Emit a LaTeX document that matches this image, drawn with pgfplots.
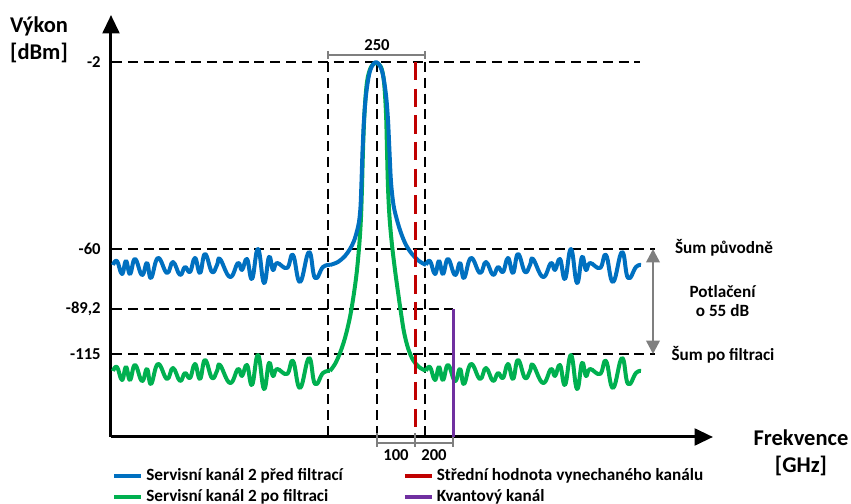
\documentclass[border=0pt]{standalone}
\usepackage{pgfplots}
\pgfplotsset{compat=1.18}
\usepackage{fontspec}
\setmainfont{Carlito}
\usetikzlibrary{arrows.meta}
\definecolor{cblue}{HTML}{0070C0}
\definecolor{cgreen}{HTML}{00B050}
\definecolor{cred}{HTML}{C00000}
\definecolor{cpurple}{HTML}{7030A0}
\definecolor{cgray}{HTML}{7F7F7F}
\begin{document}
\begin{tikzpicture}[font=\bfseries]
\begin{axis}[
 x=0.6pt, y=0.6pt,
 xmin=111, xmax=713, ymin=0, ymax=422,
 axis lines=left,
 axis line style={line width=1.8pt, -{Triangle[length=11pt,width=10pt]}},
 xtick=\empty,
 ytick={83,128,188,375},
 yticklabels={-115,{-89,2},-60,-2},
 major tick length=0pt,
 yticklabel style={font=\bfseries\fontsize{10}{12}\selectfont, inner sep=0pt, xshift=-6pt},
 clip=false,
 legend columns=2,
 legend cell align=left,
 legend image code/.code={\draw[line width=2.4pt] (0pt,0pt) -- (16pt,0pt);},
 legend style={draw=none, fill=none, at={(axis description cs:0.0017,-0.066)}, anchor=north west,
   inner sep=0pt, font=\bfseries\fontsize{10.3}{12}\selectfont,
   /tikz/every even column/.append style={column sep=34pt}, row sep=0pt},
]
% dashed guide lines
\addplot[forget plot, black, line width=0.8pt, dash pattern=on 6pt off 3.5pt] coordinates {(112,375) (640,375)};
\addplot[forget plot, black, line width=0.8pt, dash pattern=on 6pt off 3.5pt] coordinates {(112,188) (655,188)};
\addplot[forget plot, black, line width=0.8pt, dash pattern=on 6pt off 3.5pt] coordinates {(112,128) (453,128)};
\addplot[forget plot, black, line width=0.8pt, dash pattern=on 6pt off 3.5pt] coordinates {(112,83) (655,83)};
\addplot[forget plot, black, line width=0.8pt, dash pattern=on 6pt off 3.5pt] coordinates {(328,375) (328,0)};
\addplot[forget plot, black, line width=0.8pt, dash pattern=on 6pt off 3.5pt] coordinates {(377,375) (377,0)};
\addplot[forget plot, black, line width=0.8pt, dash pattern=on 6pt off 3.5pt] coordinates {(425,375) (425,0)};
% brackets
\addplot[forget plot, cgray, line width=1.2pt] coordinates {(328,386) (328,378)};
\addplot[forget plot, cgray, line width=1.2pt] coordinates {(328,382) (425,382)};
\addplot[forget plot, cgray, line width=1.2pt] coordinates {(425,386) (425,378)};
\addplot[forget plot, cgray, line width=1.2pt] coordinates {(377,-6) (453,-6)};
\addplot[forget plot, cgray, line width=1.2pt] coordinates {(377,4) (377,-10)};
\addplot[forget plot, cgray, line width=1.2pt] coordinates {(415,4) (415,-10)};
\addplot[forget plot, cgray, line width=1.2pt] coordinates {(453,4) (453,-10)};
% green curve
\addplot[forget plot, cgreen, line width=2.4pt, smooth, tension=0.75, line join=round] coordinates {
(113,66) (117,70) (122,57) (126,70) (130,57) (135,72) (142,56) (147,68) (151,53) (158,73)
(167,58) (173,69) (180,56) (185,64) (190,59) (195,73) (200,58) (205,77) (212,59) (217,66)
(220,72) (230,54) (238,68) (242,61) (247,72) (252,52) (258,82) (264,48) (269,74) (273,61)
(277,68) (287,63) (293,76) (300,49) (309,79) (315,53) (323,64) (330,66)};
\addplot[forget plot, cgreen, line width=2.4pt, smooth, tension=0.55, line join=round] coordinates {
(330,66) (335,73) (340,84) (345,99) (350,120) (354,144) (357,167) (359.5,195) (361,220) (362,250)
(363,287) (364.5,324) (367,355) (371,370) (376,374) (381,370) (384,355) (386,324) (387,287)
(388,250) (389.5,220) (392,192) (395,167) (398,145) (401,124) (404,105) (408,89) (413,77)
(419,70) (426,66)};
\addplot[forget plot, cgreen, line width=2.4pt, smooth, tension=0.75, line join=round] coordinates {
(426,66) (430,70) (435,57) (439,70) (443,57) (448,72) (455,56) (460,68) (464,53) (471,73)
(480,58) (486,69) (493,56) (498,64) (503,59) (508,73) (513,58) (518,77) (525,59) (530,66)
(533,72) (543,54) (551,68) (555,61) (560,72) (565,52) (571,82) (577,48) (582,74) (586,61)
(590,68) (600,63) (606,76) (613,49) (622,79) (628,53) (636,64) (641,66)};
% blue curve
\addplot[forget plot, cblue, line width=2.4pt, smooth, tension=0.75, line join=round] coordinates {
(113,172) (117,176) (122,163) (126,176) (130,163) (135,178) (142,162) (147,174) (151,159) (158,179)
(167,164) (173,175) (180,162) (185,170) (190,165) (195,179) (200,164) (205,183) (212,165) (217,172)
(220,178) (230,160) (238,174) (242,167) (247,178) (252,158) (258,188) (264,154) (269,180) (273,167)
(277,174) (287,169) (293,182) (300,155) (309,185) (315,159) (323,170) (330,172)};
\addplot[forget plot, cblue, line width=2.4pt, smooth, tension=0.55, line join=round] coordinates {
(330,172) (338,175) (345,181) (350,188) (354,196) (357,206) (359,215) (360.5,230) (361.5,255) (362.5,285)
(364,317) (366,342) (369,362) (372,371) (376,375) (380,371) (383,362) (386,342) (388,317)
(389.5,285) (391,255) (393.5,232) (397,217) (401,204) (406,192) (412,183) (419,176) (426,172)};
\addplot[forget plot, cblue, line width=2.4pt, smooth, tension=0.75, line join=round] coordinates {
(426,172) (430,176) (435,163) (439,176) (443,163) (448,178) (455,162) (460,174) (464,159) (471,179)
(480,164) (486,175) (493,162) (498,170) (503,165) (508,179) (513,164) (518,183) (525,165) (530,172)
(533,178) (543,160) (551,174) (555,167) (560,178) (565,158) (571,188) (577,154) (582,180) (586,167)
(590,174) (600,169) (606,182) (613,155) (622,185) (628,159) (636,170) (641,172)};
% red dashed and purple
\addplot[forget plot, cred, line width=1.8pt, dash pattern=on 11pt off 5pt] coordinates {(415,375) (415,9)};
\addplot[forget plot, cpurple, line width=1.8pt] coordinates {(453,128) (453,0)};
% grey double arrow
\addplot[forget plot, cgray, line width=1.5pt, {Triangle[length=8pt,width=8pt]}-{Triangle[length=8pt,width=8pt]}] coordinates {(653,188) (653,83)};
% legend
\addlegendimage{cblue}\addlegendentry{Servisní kanál 2 před filtrací}
\addlegendimage{cred}\addlegendentry{Střední hodnota vynechaného kanálu}
\addlegendimage{cgreen}\addlegendentry{Servisní kanál 2 po filtraci}
\addlegendimage{cpurple}\addlegendentry{Kvantový kanál}
% texts
\node[font=\bfseries\fontsize{10}{12}\selectfont] at (axis cs:377,392) {250};
\node[font=\bfseries\fontsize{10}{12}\selectfont] at (axis cs:396,-18) {100};
\node[font=\bfseries\fontsize{10}{12}\selectfont] at (axis cs:434,-18) {200};
\node[align=center, font=\bfseries\fontsize{13.5}{16}\selectfont] at (axis cs:39,397) {Výkon\\{[dBm]}};
\node[align=center, font=\bfseries\fontsize{13.5}{16}\selectfont] at (axis cs:801,-16) {Frekvence\\{[GHz]}};
\node[font=\bfseries\fontsize{10.3}{12}\selectfont] at (axis cs:724,189) {Šum původně};
\node[align=center, font=\bfseries\fontsize{10.3}{11.4}\selectfont] at (axis cs:722.5,135.5) {Potlačení\\o 55 dB};
\node[font=\bfseries\fontsize{10.3}{12}\selectfont] at (axis cs:723,82) {Šum po filtraci};
\coordinate (BBa) at (axis cs:0,437);
\coordinate (BBb) at (axis cs:851,-67);
\end{axis}
\pgfresetboundingbox
\useasboundingbox (BBa) rectangle (BBb);
\end{tikzpicture}
\end{document}
